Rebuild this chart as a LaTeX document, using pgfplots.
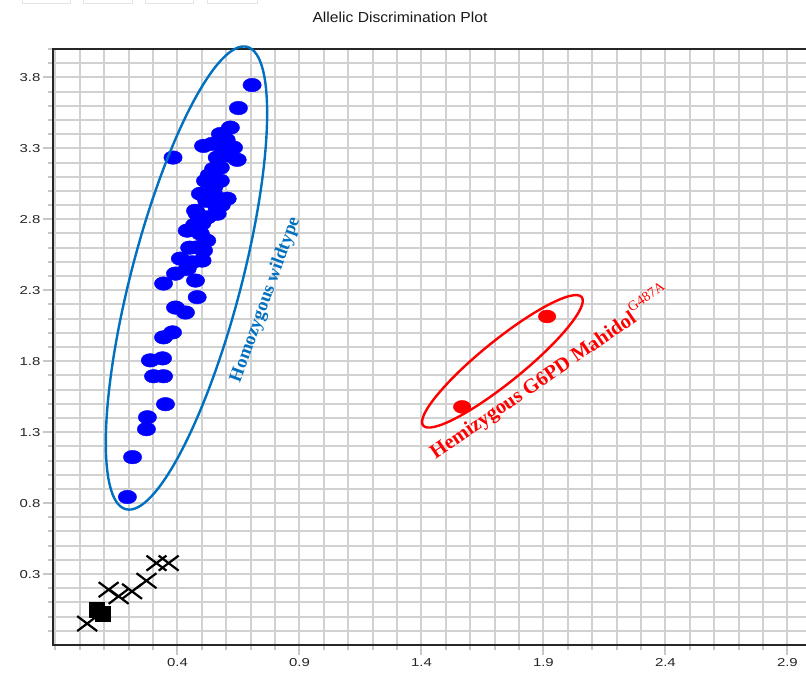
\documentclass[border=0pt]{standalone}
\usepackage{pgfplots}
\pgfplotsset{compat=1.18}
\usepackage{pgfplotstable}
\usepackage{graphicx}
\usepackage{fontspec}
\setmainfont{Liberation Sans}
\newfontfamily\serifb{Liberation Serif}
\definecolor{ellblue}{HTML}{0070C0}
\newcommand\sx[1]{\scalebox{1.3}[1]{#1}}

\pgfplotstableread{
x y
0.706 3.746
0.650 3.584
0.382 3.235
0.617 3.446
0.576 3.401
0.600 3.360
0.542 3.331
0.507 3.317
0.630 3.305
0.589 3.296
0.610 3.250
0.645 3.219
0.563 3.235
0.576 3.164
0.548 3.155
0.530 3.110
0.515 3.071
0.576 3.071
0.550 3.030
0.494 2.980
0.604 2.945
0.548 2.980
0.520 2.930
0.580 2.900
0.474 2.860
0.563 2.874
0.522 2.813
0.481 2.839
0.563 2.839
0.440 2.720
0.470 2.760
0.500 2.770
0.494 2.699
0.520 2.650
0.481 2.602
0.507 2.579
0.450 2.600
0.412 2.523
0.501 2.509
0.460 2.497
0.440 2.450
0.392 2.417
0.474 2.368
0.343 2.347
0.481 2.251
0.392 2.178
0.433 2.143
0.380 2.003
0.343 1.968
0.289 1.806
0.339 1.820
0.302 1.694
0.343 1.694
0.351 1.497
0.277 1.405
0.273 1.321
0.216 1.124
0.195 0.843
}\wildtype

\pgfplotstableread{
x y
1.567 1.478
1.915 2.115
}\hemi

\pgfplotstableread{
x y
0.030 -0.049
0.118 0.190
0.159 0.143
0.214 0.178
0.273 0.253
0.314 0.377
0.364 0.377
}\ntc

\pgfplotstableread{
x y
0.068 0.049
0.093 0.021
}\squares

\begin{document}
\begin{tikzpicture}[x=1pt,y=1pt]
\begin{axis}[
  at={(53pt,28pt)}, anchor=south west,
  scale only axis, width=758.8pt, height=596pt,
  xmin=-0.11, xmax=3.0, ymin=-0.2, ymax=4.0,
  xtick={0.4,0.9,1.4,1.9,2.4,2.9},
  xticklabels={\sx{0.4},\sx{0.9},\sx{1.4},\sx{1.9},\sx{2.4},\sx{2.9}},
  ytick={0.3,0.8,1.3,1.8,2.3,2.8,3.3,3.8},
  yticklabels={\sx{0.3},\sx{0.8},\sx{1.3},\sx{1.8},\sx{2.3},\sx{2.8},\sx{3.3},\sx{3.8}},
  minor xtick={-0.1,0,...,3.0},
  minor ytick={-0.1,0,...,4.0},
  grid=both,
  major grid style={line width=2pt, black!18},
  minor grid style={line width=2pt, black!18},
  tick align=outside, xtick pos=bottom, ytick pos=left,
  major tick length=10pt, minor tick length=5pt,
  tick style={line width=2pt, black!22},
  axis line style={line width=2.2pt, black!85},
  ticklabel style={font=\fontsize{11.5}{13}\selectfont, text=black!85},
  yticklabel style={xshift=1pt},
  clip=false,
]
\addplot[only marks, mark=*, mark size=6.8pt, color=blue, mark options={xscale=1.35, fill=blue, draw=blue}] table {\wildtype};
\addplot[only marks, mark=*, mark size=6.5pt, color=red, mark options={xscale=1.35, fill=red, draw=red}] table {\hemi};
\addplot[only marks, mark=x, mark size=10.6pt, color=black, mark options={xscale=1.33, line width=2.2pt}] table {\ntc};
\addplot[only marks, mark=square*, mark size=7.5pt, color=black, mark options={fill=black}] table {\squares};
\coordinate (bc) at (axis cs:0.437,2.386);
\coordinate (rc) at (axis cs:1.732,1.799);
\node[rotate=70, anchor=base west, text=ellblue, inner sep=0pt] at (axis cs:0.656,1.644)
  {\serifb\bfseries\fontsize{18.5}{20}\selectfont Homozygous wildtype};
\node[rotate=34.5, anchor=base west, text=red, inner sep=0pt] at (axis cs:1.458,1.105)
  {\serifb\bfseries\fontsize{20.5}{22}\selectfont Hemizygous G6PD Mahidol\raisebox{0.5em}{\mdseries\fontsize{14}{14}\selectfont G487A}};
\end{axis}
\draw[ellblue, line width=2.4pt, rotate around={75.3:(bc)}] (bc) ellipse [x radius=239, y radius=55];
\draw[red, line width=2.4pt, rotate around={39:(rc)}] (rc) ellipse [x radius=102, y radius=21];
\node[anchor=base, font=\fontsize{14.5}{16}\selectfont, text=black!90] at (400,650.3) {\scalebox{1.08}[1]{Allelic Discrimination Plot}};
\foreach \a/\b in {22/70, 83/132, 145/193, 207/257} {
  \draw[black!10, line width=0.8pt] (\a,673.5) rectangle (\b,670);
}
\pgfresetboundingbox
\useasboundingbox (0,0) rectangle (806,673);
\end{tikzpicture}
\end{document}
